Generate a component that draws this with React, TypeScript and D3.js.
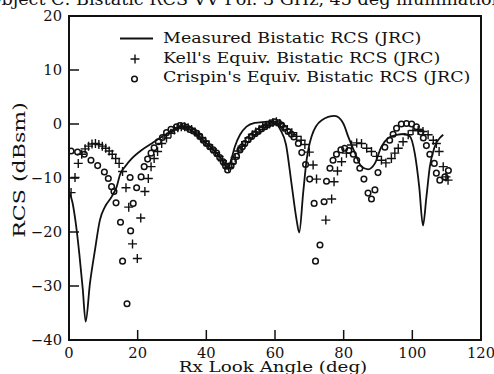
import React from "react";
import * as d3 from "d3";

const measuredDeg = [0, 1, 2, 3, 4, 4.85, 6.1, 7.57, 9.0, 10.5, 12.4, 13.9, 14.85, 16.3, 18.25, 21.2, 24.1, 28, 30.4, 32.8, 35, 37, 39, 41, 43, 45, 46.2, 47.2, 48.3, 49.8, 51.7, 54.1, 57.1, 59, 60.5, 61.5, 63.2, 64.8, 66.3, 67.05, 68.2, 69.2, 70.65, 73.6, 77.4, 79.9, 81.3, 83.3, 85.2, 87.1, 89.1, 91.0, 93.0, 95.4, 97.8, 99.3, 100.7, 102.0, 103.1, 104.1, 105.1, 106.5, 108.0, 109.0];
const measuredDb = [-12.5, -14.5, -18.5, -24, -30.5, -36.6, -29.5, -23.3, -17.8, -15.3, -13.5, -11.6, -9.4, -7.9, -6.4, -4.8, -3.6, -2.0, -1.1, -0.4, -1.0, -1.7, -2.9, -4.1, -5.4, -7.0, -8.3, -6.7, -4.2, -2.0, -0.5, 0.2, 0.4, 0.5, 0.1, -1.0, -3.8, -11, -17.8, -20.1, -12.8, -6.7, -2.3, 0.7, 1.5, 0.1, -2.3, -5.4, -7.9, -8.4, -7.3, -4.2, -2.6, -2.0, -1.85, -2.3, -5.4, -11.6, -18.8, -13.5, -7.9, -4.2, -2.6, -2.0];

const kellDeg = [0.6, 1.75, 2.7, 3.7, 4.7, 5.7, 6.7, 7.7, 8.7, 9.7, 10.7, 11.7, 12.6, 13.6, 14.6, 15.6, 16.6, 17.4, 18.5, 19.9, 20.9, 22.1, 23.1, 23.9, 24.8, 25.8, 27.0, 28.4, 29.7, 30.7, 31.7, 32.7, 33.7, 34.7, 35.7, 36.7, 37.7, 38.7, 39.7, 40.7, 41.7, 42.7, 43.7, 44.7, 45.7, 46.5, 47.4, 48.4, 49.4, 50.4, 51.4, 52.4, 53.4, 54.4, 55.4, 56.4, 57.4, 58.4, 59.4, 60.4, 61.4, 62.4, 63.6, 64.9, 66.3, 67.6, 68.7, 70.0, 71.1, 72.1, 74.8, 76.5, 77.2, 78.2, 79.4, 80.8, 82.3, 83.8, 85.2, 86.7, 88.1, 89.6, 91.0, 92.3, 93.9, 94.9, 95.9, 97.3, 98.8, 100.2, 101.7, 103.1, 104.6, 106.1, 107.0, 107.8, 109.0, 109.8, 110.4];
const kellDb = [-12.7, -9.9, -7.3, -5.6, -4.6, -4.1, -3.7, -3.6, -3.8, -4.1, -4.5, -5.0, -5.6, -6.4, -7.3, -8.8, -11.8, -15.4, -22.2, -24.9, -17.4, -12.5, -10.1, -7.9, -6.4, -5.1, -3.6, -2.6, -1.7, -1.1, -0.7, -0.5, -0.5, -0.7, -1.0, -1.5, -2.0, -2.6, -3.2, -3.9, -4.6, -5.3, -6.0, -6.8, -7.6, -8.0, -7.3, -6.2, -5.0, -4.1, -3.3, -2.6, -2.0, -1.5, -1.0, -0.6, -0.3, 0.0, 0.3, 0.4, 0.1, -0.5, -1.0, -1.6, -2.3, -3.0, -3.8, -5.2, -7.6, -10.2, -17.8, -13.9, -10.7, -8.7, -7.0, -5.4, -3.9, -3.5, -3.6, -4.5, -5.1, -6.0, -6.7, -7.2, -6.4, -5.4, -4.5, -3.3, -2.0, -1.2, -1.2, -1.4, -2.0, -3.0, -3.6, -5.1, -7.9, -9.8, -10.4];

const crispinDeg = [0.6, 2.5, 4.45, 6.4, 8.35, 10.3, 11.45, 12.4, 13.1, 13.7, 15.0, 15.6, 16.9, 17.8, 17.95, 18.7, 19.7, 21.0, 21.9, 22.9, 23.9, 24.8, 26.0, 27.2, 28.4, 29.7, 31.3, 32.3, 33.3, 34.2, 35.2, 36.2, 37.2, 38.1, 39.1, 40.0, 41.0, 42.0, 43.0, 43.9, 44.9, 45.6, 46.2, 47.2, 47.9, 48.8, 49.8, 50.5, 51.2, 52.2, 53.2, 54.2, 55.1, 56.1, 57.1, 58.0, 59.0, 60.0, 61.0, 61.9, 62.8, 63.8, 64.8, 65.5, 66.8, 67.8, 68.9, 70.1, 71.4, 71.8, 73.1, 74.3, 75.0, 76.0, 76.9, 77.9, 79.2, 80.3, 81.5, 82.8, 83.8, 84.7, 85.9, 87.1, 88.1, 89.1, 90.0, 92.0, 93.4, 94.4, 95.4, 96.8, 98.3, 99.8, 101.2, 102.5, 103.2, 104.1, 105.1, 106.4, 107.0, 108.0, 109.5, 110.5];
const crispinDb = [-5.0, -5.2, -5.6, -6.7, -7.7, -8.9, -10.1, -11.6, -12.5, -14.6, -18.2, -25.4, -33.3, -9.9, -19.8, -14.7, -11.8, -9.8, -7.9, -6.5, -5.4, -4.4, -3.3, -2.5, -1.6, -1.0, -0.5, -0.3, -0.4, -0.6, -1.0, -1.3, -1.7, -2.3, -3.0, -3.6, -4.2, -4.8, -5.4, -6.2, -7.0, -7.8, -8.5, -7.8, -7.0, -6.0, -4.8, -4.2, -3.6, -2.9, -2.3, -1.8, -1.4, -0.9, -0.5, -0.1, 0.2, 0.4, 0.2, -0.2, -0.8, -1.4, -1.9, -2.4, -3.6, -5.3, -7.5, -10.2, -14.7, -25.4, -22.4, -14.4, -10.6, -8.2, -6.7, -5.6, -4.8, -4.5, -4.9, -5.6, -6.7, -8.2, -10.2, -12.8, -13.9, -12.2, -9.0, -4.3, -3.0, -1.9, -0.8, 0.0, 0.1, 0.0, -0.5, -1.5, -2.6, -4.0, -5.6, -7.3, -9.1, -10.4, -9.8, -8.6];

const xTicks = [0, 20, 40, 60, 80, 100, 120];
const yTicks = [-40, -30, -20, -10, 0, 10, 20];
const legendLabels = ["Measured Bistatic RCS (JRC)", "Kell's Equiv. Bistatic RCS (JRC)", "Crispin's Equiv. Bistatic RCS (JRC)"];
const titleText = "Object C: Bistatic RCS VV Pol. 3 GHz, 45 deg illumination";
const xLabel = "Rx Look Angle (deg)";
const yLabel = "RCS (dBsm)";

const W = 494, H = 374;
const L = 69, R = 481, T = 16, B = 340;
const FONT = "'DejaVu Serif', serif";
const INK = "#111";

function SText(props: { x: number; y: number; sx: number; size: number; anchor?: string; rot?: number; children: string }) {
  const { x, y, sx, size, anchor, rot, children } = props;
  const tr = `translate(${x},${y})${rot ? ` rotate(${rot})` : ""} scale(${sx},1)`;
  return (
    <text transform={tr} textAnchor={anchor || "start"} fontSize={size} fill={INK}>{children}</text>
  );
}

export default function App() {
  const x = d3.scaleLinear().domain([0, 120]).range([L, R]);
  const y = d3.scaleLinear().domain([-40, 20]).range([B, T]);
  const line = d3.line<number>().x((_, i) => x(measuredDeg[i])).y((d) => y(d)).curve(d3.curveMonotoneX);
  const fmt = (v: number) => (v < 0 ? "\u2212" + Math.abs(v) : String(v));
  const plus = (cx: number, cy: number, k: string) => (
    <path key={k} d={`M${cx - 4.5},${cy}H${cx + 4.5}M${cx},${cy - 4.5}V${cy + 4.5}`} stroke={INK} strokeWidth={1.4} fill="none" />
  );
  const circ = (cx: number, cy: number, k: string) => (
    <circle key={k} cx={cx} cy={cy} r={2.8} stroke={INK} strokeWidth={1.5} fill="none" />
  );
  return (
    <svg width={W} height={H} style={{ position: "absolute", left: 0, top: 0, background: "#fff" }} fontFamily={FONT}>
      <rect x={0} y={0} width={W} height={H} fill="#fff" />
      <SText x={245} y={5} sx={1.1} size={16} anchor="middle">{titleText}</SText>
      <defs>
        <clipPath id="pa"><rect x={L} y={T} width={R - L} height={B - T} /></clipPath>
      </defs>
      <g clipPath="url(#pa)">
        <path d={line(measuredDb) || ""} fill="none" stroke={INK} strokeWidth={1.8} />
        {kellDeg.map((d, i) => plus(x(d), y(kellDb[i]), "k" + i))}
        {crispinDeg.map((d, i) => circ(x(d), y(crispinDb[i]), "c" + i))}
      </g>
      <rect x={L} y={T} width={R - L} height={B - T} fill="none" stroke={INK} strokeWidth={2} />
      {xTicks.map((t) => (
        <g key={"x" + t}>
          <line x1={x(t)} x2={x(t)} y1={B} y2={B - 10} stroke={INK} strokeWidth={1.5} />
          <SText x={x(t)} y={358} sx={1.05} size={14} anchor="middle">{fmt(t)}</SText>
        </g>
      ))}
      {yTicks.map((t) => (
        <g key={"y" + t}>
          <line x1={L} x2={L + 10} y1={y(t)} y2={y(t)} stroke={INK} strokeWidth={1.5} />
          <SText x={62} y={y(t) + 5} sx={1.05} size={14} anchor="end">{fmt(t)}</SText>
        </g>
      ))}
      <SText x={273} y={372} sx={1.18} size={15.5} anchor="middle">{xLabel}</SText>
      <SText x={25} y={170} sx={1.3} size={17} anchor="middle" rot={-90}>{yLabel}</SText>
      <g>
        <line x1={120} x2={153} y1={38.5} y2={38.5} stroke={INK} strokeWidth={1.8} />
        {plus(135, 59, "lp")}
        {circ(134.5, 79, "lc")}
        {legendLabels.map((s, i) => (
          <SText key={s} x={163} y={43 + i * 19.7} sx={1.25} size={14}>{s}</SText>
        ))}
      </g>
    </svg>
  );
}
